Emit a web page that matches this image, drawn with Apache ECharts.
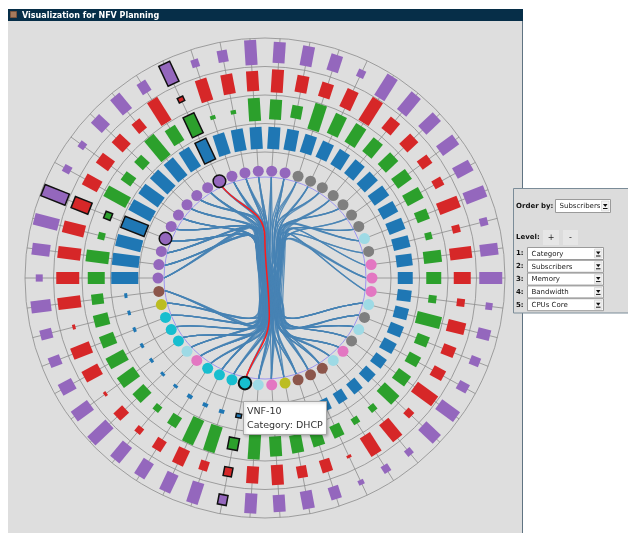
<!DOCTYPE html>
<html>
<head>
<meta charset="utf-8">
<title>Visualization for NFV Planning</title>
<script src="https://cdn.jsdelivr.net/npm/echarts@6/dist/echarts.min.js"></script>
<style>
    html, body { margin: 0; padding: 0; background: #fff; }
    #chart { width: 628px; height: 533px; }
</style>
</head>
<body>
<div id="chart"></div>
<script>
// node order (clockwise from 12 o'clock), ordered by subscribers
const nodeIds = [23, 41, 7, 35, 18, 2, 46, 29, 13, 38, 5, 31, 44, 16, 27, 9, 50, 21, 36, 3,
    48, 14, 32, 25, 40, 19, 10, 33, 6, 45, 28, 12, 39, 1, 24, 47, 17, 30, 8, 42,
    15, 37, 26, 4, 49, 20, 34, 11, 43, 22];
const nodeCategory = ['Firewall', 'Firewall', 'NAT', 'NAT', 'NAT', 'NAT', 'NAT', 'NAT', 'NAT', 'IDS',
    'NAT', 'DNS', 'DNS', 'DNS', 'IDS', 'NAT', 'IDS', 'NAT', 'DNS', 'IDS',
    'Proxy', 'Proxy', 'Proxy', 'VPN', 'DNS', 'IDS', 'DHCP', 'DHCP', 'DHCP', 'DHCP',
    'DNS', 'IDS', 'DHCP', 'DHCP', 'DHCP', 'VPN', 'Proxy', 'Firewall', 'Firewall', 'Firewall',
    'Firewall', 'Firewall', 'Firewall', 'Firewall', 'Firewall', 'Firewall', 'Firewall', 'Firewall', 'Firewall', 'Firewall'];

// level 2..5 values
const subscribers = [22, 21, 19, 18, 18, 18, 18, 18, 17, 17, 17, 16, 15, 14, 14, 14, 14, 13, 13, 13,
    12, 12, 9, 7, 5, 4, 4, 4, 4, 4, 3, 3, 3, 3, 3, 3, 3, 27, 27, 26,
    25, 25, 24, 24, 23, 23, 23, 22, 22, 22];
const memory = [20, 13, 27, 22, 22, 18, 17, 17, 18, 13, 7, 18, 15, 8, 25, 13, 13, 15, 20, 7,
    7, 13, 15, 18, 20, 26, 12, 27, 27, 12, 7, 15, 20, 20, 15, 15, 12, 17, 23, 7,
    7, 25, 12, 12, 27, 18, 22, 4, 4, 23];
const bandwidth = [23, 17, 15, 20, 27, 15, 15, 12, 10, 22, 8, 22, 17, 8, 18, 13, 13, 25, 8, 22,
    22, 3, 13, 12, 20, 17, 9, 10, 17, 12, 7, 12, 3, 18, 20, 3, 23, 23, 23, 22,
    18, 17, 15, 15, 12, 27, 5, 23, 20, 20];
const cpuCores = [21, 20, 17, 8, 25, 23, 20, 20, 18, 22, 8, 18, 23, 7, 13, 10, 11, 22, 20, 7,
    8, 5, 13, 18, 17, 20, 10, 22, 20, 18, 20, 25, 20, 15, 12, 12, 20, 7, 18, 25,
    26, 8, 7, 15, 20, 12, 22, 8, 12, 25];

// connections (bottom node -> top node)
const linkSource = [14, 14, 14, 14, 15, 15, 15, 15, 16, 16, 16, 16, 17, 17, 17, 18, 18, 18, 18, 19, 19, 19,
    20, 20, 20, 20, 21, 21, 21, 22, 22, 22, 22, 23, 23, 23, 24, 24, 24, 25, 25, 25, 25,
    26, 26, 26, 27, 27, 27, 28, 28, 28, 28, 29, 29, 29, 30, 30, 30, 30, 31, 31, 31,
    32, 32, 32, 32, 33, 33, 33, 34, 34, 34, 35, 35, 35, 35, 36, 36, 36, 36,
    14, 15, 16, 17, 18, 19, 20, 21, 22, 23, 24, 25, 27, 28, 29, 30, 31, 32, 33, 34, 35, 36, 24, 27, 31];
const linkTarget = [2, 40, 45, 9, 5, 38, 47, 12, 3, 42, 49, 11, 6, 39, 44, 4, 41, 48, 13, 7, 43, 0,
    8, 37, 46, 10, 1, 45, 39, 2, 47, 41, 12, 5, 38, 43, 6, 40, 49, 3, 44, 37, 9,
    42, 0, 8, 4, 48, 39, 7, 41, 45, 11, 1, 43, 38, 2, 47, 40, 13, 5, 42, 49,
    6, 37, 44, 10, 3, 46, 39, 8, 41, 48, 4, 45, 38, 12, 0, 43, 47, 9,
    47, 44, 40, 48, 38, 46, 42, 49, 37, 45, 41, 39, 43, 0, 47, 44, 1, 48, 40, 45, 42, 39, 1, 37, 46];
const highlightLink = [26, 46];
const selectedNodes = [26, 40, 46];

const levelNames = ['Category', 'Subscribers', 'Memory', 'Bandwidth', 'CPUs Core'];

const categoryColor = {
    'Firewall': '#9467bd', 'NAT': '#7f7f7f', 'IDS': '#9edae5', 'DNS': '#e377c2',
    'Proxy': '#8c564b', 'VPN': '#bcbd22', 'DHCP': '#17becf'
};

const nodeNames = nodeIds.map(id => 'VNF-' + id);

// ring layout (radius axis units)
const LINK_R = 101;
const NODE_R = 107;
const RING_EDGES = [126, 154.5, 183, 211.5, 240];

const chart = echarts.init(document.getElementById('chart'));

function dist(a, b) {
    return Math.sqrt((a[0] - b[0]) * (a[0] - b[0]) + (a[1] - b[1]) * (a[1] - b[1]));
}

// one ring of radial bars
function ringSeries(values, ring, color) {
    const mid = (RING_EDGES[ring] + RING_EDGES[ring + 1]) / 2;
    return {
        type: 'custom',
        coordinateSystem: 'polar',
        silent: true,
        z: 5,
        data: values.map((v, i) => [v, i]),
        renderItem: function (params, api) {
            const i = params.dataIndex;
            const len = api.value(0);
            const p1 = api.coord([mid - len / 2, i]);
            const p2 = api.coord([mid + len / 2, i]);
            const d = dist(p1, p2) || 1;
            const nx = -(p2[1] - p1[1]) / d, ny = (p2[0] - p1[0]) / d;
            const w = Math.min(12, 3 + 0.6 * len) / 2;
            const sel = selectedNodes.indexOf(i) >= 0;
            return {
                type: 'polygon',
                shape: {
                    points: [
                        [p1[0] + nx * w, p1[1] + ny * w], [p2[0] + nx * w, p2[1] + ny * w],
                        [p2[0] - nx * w, p2[1] - ny * w], [p1[0] - nx * w, p1[1] - ny * w]
                    ]
                },
                style: { fill: color, stroke: sel ? '#111' : null, lineWidth: sel ? 1.5 : 0 }
            };
        }
    };
}

// bundled edge from a top node through the trunk to a bottom node
function linkPath(api, b, t) {
    const c = api.coord([0, 0]);
    const u = dist(api.coord([100, 0]), c) / 100;
    const A = api.coord([LINK_R, t]);
    const B = api.coord([LINK_R, b]);
    const tx1 = c[0] + u * 5 + (A[0] - c[0]) * 0.12 + (((t * 7 + b * 3) % 9) - 4) * 0.8 * u;
    const tx2 = c[0] + u * 7 + (B[0] - c[0]) * 0.10 + (((t * 5 + b * 11) % 9) - 4) * 0.8 * u;
    const y1 = c[1] - u * (28 + ((t * 3) % 7) * 2.5);
    const y2 = c[1] + u * (30 + ((b * 5) % 7) * 2);
    const ca = [A[0] + (tx1 - A[0]) * 0.45, A[1] + (y1 - A[1]) * 0.45];
    const cb = [B[0] + (tx2 - B[0]) * 0.45, B[1] + (y2 - B[1]) * 0.45];
    return 'M' + A[0] + ',' + A[1] +
        ' C' + ca[0] + ',' + ca[1] + ' ' + tx1 + ',' + (y1 - 28 * u) + ' ' + tx1 + ',' + y1 +
        ' C' + tx1 + ',' + (y1 + 28 * u) + ' ' + tx2 + ',' + (y2 - 28 * u) + ' ' + tx2 + ',' + y2 +
        ' C' + tx2 + ',' + (y2 + 25 * u) + ' ' + cb[0] + ',' + cb[1] + ' ' + B[0] + ',' + B[1];
}

function selectBox(x, y, w, h, label) {
    return [
        { type: 'rect', z: 50, shape: { x: x, y: y, width: w, height: h }, style: { fill: '#fff', stroke: '#9a9a9a', lineWidth: 1 } },
        { type: 'text', z: 51, style: { x: x + 4, y: y + h / 2 + 0.5, text: label, fill: '#222', fontSize: 7, fontFamily: 'DejaVu Sans', verticalAlign: 'middle' } },
        { type: 'rect', z: 51, shape: { x: x + w - 9, y: y + 1.5, width: 7.5, height: h - 3 }, style: { fill: '#f2f2f2', stroke: '#c4c4c4', lineWidth: 0.5 } },
        { type: 'polygon', z: 52, shape: { points: [[x + w - 7.5, y + h / 2 - 2], [x + w - 3, y + h / 2 - 2], [x + w - 5.25, y + h / 2 + 1]] }, style: { fill: '#111' } },
        { type: 'line', z: 52, shape: { x1: x + w - 7.5, y1: y + h / 2 + 2.5, x2: x + w - 3, y2: y + h / 2 + 2.5 }, style: { stroke: '#111', lineWidth: 1 } }
    ];
}

const boldLabel = (x, y, text) => ({
    type: 'text', z: 51,
    style: { x: x, y: y, text: text, fill: '#111', fontSize: 7, fontWeight: 'bold', fontFamily: 'DejaVu Sans', verticalAlign: 'middle' }
});

const graphics = [
    // window frame
    { type: 'rect', z: -5, shape: { x: 8, y: 21, width: 514, height: 512 }, style: { fill: '#dedede' } },
    { type: 'line', z: -4, shape: { x1: 522.5, y1: 9, x2: 522.5, y2: 533 }, style: { stroke: '#5f7382', lineWidth: 1 } },
    { type: 'rect', z: -4, shape: { x: 8, y: 9, width: 515, height: 12 }, style: { fill: '#062e48' } },
    { type: 'rect', z: -3, shape: { x: 10.5, y: 11.5, width: 6, height: 6 }, style: { fill: '#a47a5d', stroke: '#7a5640', lineWidth: 1 } },
    { type: 'text', z: -3, style: { x: 22, y: 15.5, text: 'Visualization for NFV Planning', fill: '#fff', fontSize: 8, fontWeight: 'bold', fontFamily: 'DejaVu Sans', verticalAlign: 'middle' } },
    // control panel
    { type: 'rect', z: 49, shape: { x: 513.5, y: 188.5, width: 120, height: 124.5 }, style: { fill: '#dcdcdc', stroke: '#7b8c98', lineWidth: 1 } },
    boldLabel(516, 206.5, 'Order by:'),
    ...selectBox(555.5, 199.5, 55, 13, levelNames[1]),
    boldLabel(516, 237.5, 'Level:'),
    { type: 'rect', z: 50, shape: { x: 543, y: 230, width: 16, height: 15 }, style: { fill: '#e6e6e6' } },
    { type: 'text', z: 51, style: { x: 551, y: 237.5, text: '+', fill: '#222', fontSize: 8, fontFamily: 'DejaVu Sans', align: 'center', verticalAlign: 'middle' } },
    { type: 'rect', z: 50, shape: { x: 563, y: 230, width: 15, height: 15 }, style: { fill: '#e6e6e6' } },
    { type: 'text', z: 51, style: { x: 570.5, y: 237.5, text: '-', fill: '#222', fontSize: 8, fontFamily: 'DejaVu Sans', align: 'center', verticalAlign: 'middle' } }
];
levelNames.forEach((name, k) => {
    graphics.push(boldLabel(516, 253.5 + k * 12.8, (k + 1) + ':'));
    graphics.push(...selectBox(527.5, 247.5 + k * 12.8, 76, 12, name));
});
// hover tooltip for the selected node
const tipNode = 26;
graphics.push(
    { type: 'rect', z: 100, shape: { x: 243.5, y: 401.5, width: 83, height: 33 }, style: { fill: '#fff', stroke: '#a8a8a8', lineWidth: 1, shadowBlur: 3, shadowColor: 'rgba(0,0,0,0.25)', shadowOffsetX: 1, shadowOffsetY: 1 } },
    { type: 'text', z: 101, style: { x: 247, y: 412, text: nodeNames[tipNode], fill: '#333', fontSize: 9.5, fontFamily: 'DejaVu Sans', verticalAlign: 'middle' } },
    { type: 'text', z: 101, style: { x: 247, y: 426, text: 'Category: ' + nodeCategory[tipNode], fill: '#333', fontSize: 9.5, fontFamily: 'DejaVu Sans', verticalAlign: 'middle' } }
);

const hiddenAxis = {
    axisLine: { show: false }, axisTick: { show: false },
    axisLabel: { show: false }, splitLine: { show: false }
};

const option = {
    backgroundColor: '#ffffff',
    animation: false,
    polar: { center: [265, 278], radius: 240 },
    radiusAxis: Object.assign({ type: 'value', min: 0, max: 240 }, hiddenAxis),
    angleAxis: Object.assign({ type: 'category', data: nodeNames, startAngle: 90, clockwise: true, boundaryGap: true }, hiddenAxis),
    graphic: { elements: graphics },
    series: [
        // ring circles
        {
            type: 'custom', coordinateSystem: 'polar', silent: true, z: 1,
            data: RING_EDGES.concat([LINK_R]).map(r => [r, 0]),
            renderItem: function (params, api) {
                const c = api.coord([0, 0]);
                const r = dist(api.coord([api.value(0), 0]), c);
                const inner = params.dataIndex === RING_EDGES.length;
                return {
                    type: 'circle', shape: { cx: c[0], cy: c[1], r: r },
                    style: { fill: 'none', stroke: inner ? '#9d95f0' : '#8c8c8c', lineWidth: inner ? 1 : 0.8 }
                };
            }
        },
        // spokes
        {
            type: 'custom', coordinateSystem: 'polar', silent: true, z: 1,
            data: nodeNames.map((n, i) => [RING_EDGES[4], i]),
            renderItem: function (params, api) {
                const i = params.dataIndex;
                const a = api.coord([NODE_R, i]);
                const b = api.coord([api.value(0), i]);
                return { type: 'line', shape: { x1: a[0], y1: a[1], x2: b[0], y2: b[1] }, style: { stroke: '#8c8c8c', lineWidth: 0.8 } };
            }
        },
        // bundled links
        {
            type: 'custom', coordinateSystem: 'polar', silent: true, z: 3,
            data: linkSource.map((s, k) => [s, linkTarget[k]]),
            renderItem: function (params, api) {
                const k = params.dataIndex;
                return {
                    type: 'path',
                    shape: { pathData: linkPath(api, linkSource[k], linkTarget[k]) },
                    style: { fill: 'none', stroke: 'rgba(70,130,180,0.85)', lineWidth: 1.3 }
                };
            }
        },
        // highlighted link
        {
            type: 'custom', coordinateSystem: 'polar', silent: true, z: 4,
            data: [highlightLink],
            renderItem: function (params, api) {
                return {
                    type: 'path',
                    shape: { pathData: linkPath(api, highlightLink[0], highlightLink[1]) },
                    style: { fill: 'none', stroke: '#ff1a1a', lineWidth: 1.5 }
                };
            }
        },
        ringSeries(subscribers, 0, '#1f77b4'),
        ringSeries(memory, 1, '#2ca02c'),
        ringSeries(bandwidth, 2, '#d62728'),
        ringSeries(cpuCores, 3, '#9467bd'),
        // level 1: category nodes
        {
            type: 'custom', coordinateSystem: 'polar', silent: true, z: 6,
            data: nodeNames.map((n, i) => [NODE_R, i]),
            renderItem: function (params, api) {
                const i = params.dataIndex;
                const p = api.coord([api.value(0), i]);
                const sel = selectedNodes.indexOf(i) >= 0;
                return {
                    type: 'circle',
                    shape: { cx: p[0], cy: p[1], r: sel ? 6.3 : 5.5 },
                    style: { fill: categoryColor[nodeCategory[i]], stroke: sel ? '#111' : null, lineWidth: sel ? (i === tipNode ? 2 : 1.5) : 0 }
                };
            }
        }
    ]
};
chart.setOption(option);
</script>
</body>
</html>
